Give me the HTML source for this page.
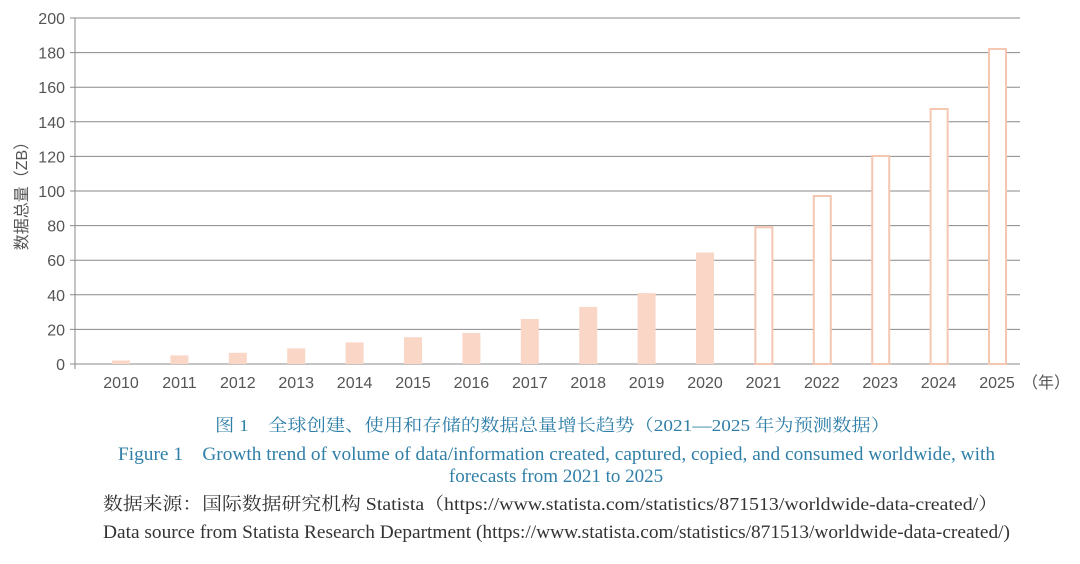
<!DOCTYPE html>
<html><head><meta charset="utf-8"><style>
body{margin:0;background:#fff;width:1080px;height:564px;overflow:hidden}
svg{display:block}
</style></head><body>
<svg width="1080" height="564" xmlns="http://www.w3.org/2000/svg">
<g stroke="#8a8a8a" stroke-width="1">
<line x1="70" y1="18" x2="1020" y2="18"/><line x1="70" y1="52.6" x2="1020" y2="52.6"/>
<line x1="70" y1="87.2" x2="1020" y2="87.2"/><line x1="70" y1="121.8" x2="1020" y2="121.8"/>
<line x1="70" y1="156.4" x2="1020" y2="156.4"/><line x1="70" y1="191" x2="1020" y2="191"/>
<line x1="70" y1="225.6" x2="1020" y2="225.6"/><line x1="70" y1="260.2" x2="1020" y2="260.2"/>
<line x1="70" y1="294.8" x2="1020" y2="294.8"/><line x1="70" y1="329.4" x2="1020" y2="329.4"/>
<line x1="70" y1="364" x2="1020" y2="364"/>
<line x1="75" y1="18" x2="75" y2="369"/>
</g>
<g font-family="Liberation Sans, sans-serif" font-size="16" fill="#555" text-anchor="end">
<text x="65" y="24">200</text><text x="65" y="58.6">180</text><text x="65" y="93.2">160</text>
<text x="65" y="127.8">140</text><text x="65" y="162.4">120</text><text x="65" y="197">100</text>
<text x="65" y="231.6">80</text><text x="65" y="266.2">60</text><text x="65" y="300.8">40</text>
<text x="65" y="335.4">20</text><text x="65" y="370">0</text>
</g>
<text transform="translate(27,192) rotate(-90)" font-family="Liberation Sans, 'Noto Sans CJK SC', sans-serif" font-size="16" fill="#555" text-anchor="middle">数据总量（ZB）</text>
<g fill="#f9d6c6">
<rect x="112" y="360.5" width="18" height="3.5"/>
<rect x="170.4" y="355.4" width="18" height="8.6"/>
<rect x="228.8" y="352.8" width="18" height="11.2"/>
<rect x="287.2" y="348.4" width="18" height="15.6"/>
<rect x="345.6" y="342.4" width="18" height="21.6"/>
<rect x="404" y="337.2" width="18" height="26.8"/>
<rect x="462.4" y="332.9" width="18" height="31.1"/>
<rect x="520.8" y="319" width="18" height="45"/>
<rect x="579.2" y="306.9" width="18" height="57.1"/>
<rect x="637.6" y="293.1" width="18" height="70.9"/>
<rect x="696" y="252.5" width="18" height="111.5"/>
</g>
<g fill="#fff" stroke="#f5c6b2" stroke-width="2">
<rect x="755.4" y="227.3" width="17" height="136.7"/>
<rect x="813.8" y="196" width="17" height="168"/>
<rect x="872.2" y="156" width="17" height="208"/>
<rect x="930.6" y="109" width="17" height="255"/>
<rect x="989" y="49" width="17" height="315"/>
</g>
<g font-family="Liberation Sans, sans-serif" font-size="16" fill="#555" text-anchor="middle">
<text x="121" y="388">2010</text><text x="179.4" y="388">2011</text><text x="237.8" y="388">2012</text>
<text x="296.2" y="388">2013</text><text x="354.6" y="388">2014</text><text x="413" y="388">2015</text>
<text x="471.4" y="388">2016</text><text x="529.8" y="388">2017</text><text x="588.2" y="388">2018</text>
<text x="646.6" y="388">2019</text><text x="705" y="388">2020</text><text x="763.4" y="388">2021</text>
<text x="821.8" y="388">2022</text><text x="880.2" y="388">2023</text><text x="938.6" y="388">2024</text>
<text x="997" y="388">2025</text>
</g>
<text x="1022" y="388" font-family="Liberation Sans, 'Noto Sans CJK SC', sans-serif" font-size="16" fill="#555">（年）</text>
<g font-family="Liberation Serif, 'Noto Serif CJK SC', serif">
<text x="215" y="431" font-size="17" fill="#2f7fa8" textLength="675" lengthAdjust="spacingAndGlyphs">图 1　全球创建、使用和存储的数据总量增长趋势（2021—2025 年为预测数据）</text>
<text x="118" y="460" font-size="19" fill="#2f7fa8" textLength="877" lengthAdjust="spacingAndGlyphs">Figure 1　Growth trend of volume of data/information created, captured, copied, and consumed worldwide, with</text>
<text x="556" y="482" font-size="19" fill="#2f7fa8" text-anchor="middle">forecasts from 2021 to 2025</text>
<text x="103" y="510" font-size="18" fill="#333" textLength="895" lengthAdjust="spacingAndGlyphs">数据来源：国际数据研究机构 Statista（https://www.statista.com/statistics/871513/worldwide-data-created/）</text>
<text x="103" y="538" font-size="19" fill="#333" textLength="907" lengthAdjust="spacingAndGlyphs">Data source from Statista Research Department (https://www.statista.com/statistics/871513/worldwide-data-created/)</text>
</g>
</svg>
</body></html>
